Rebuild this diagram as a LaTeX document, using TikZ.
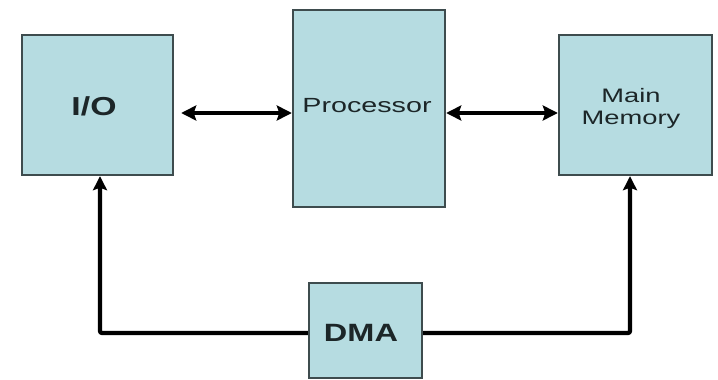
\documentclass[tikz,border=0pt]{standalone}
\usepackage{fontspec}
\setmainfont{Liberation Sans}
\newfontfamily\widefont[FakeStretch=1.4]{Liberation Sans}
\newfontfamily\widebold[FakeStretch=1.3]{Liberation Sans Bold}
\usetikzlibrary{arrows.meta}
\definecolor{boxfill}{HTML}{B6DCE1}
\definecolor{boxedge}{HTML}{3E4C4E}
\definecolor{labeltext}{HTML}{1C2628}
\tikzset{
  block/.style={draw=boxedge, line width=2.4pt, fill=boxfill, rectangle,
    inner sep=0pt, text=labeltext, align=center},
  bus/.style={line width=4.6pt, black,
    {Stealth[length=15pt,width=15pt,inset=2.5pt]}-{Stealth[length=15pt,width=15pt,inset=2.5pt]}},
  link/.style={line width=4.2pt, black, -{Stealth[length=14pt,width=14pt,inset=2.5pt]}}
}
\begin{document}
\begin{tikzpicture}[x=1pt, y=-1pt]
\useasboundingbox (0,0) rectangle (718,380);

% functional blocks
\node[block, minimum width=151pt, minimum height=140pt] (io) at (97.5,105) {};
\node[block, minimum width=152pt, minimum height=197pt] (proc) at (369,108.5) {};
\node[block, minimum width=153pt, minimum height=140pt] (mem) at (635.5,105) {};
\node[block, minimum width=113pt, minimum height=95pt] (dma) at (365.5,330.5) {};

% block labels
\node[text=labeltext, font=\widebold\fontsize{26}{28}\selectfont] (iotext) at (94,106.5) {I/O};
\node[text=labeltext, font=\widefont\fontsize{20.5}{22}\selectfont] (proctext) at (367,106) {Processor};
\node[text=labeltext, font=\widefont\fontsize{19.5}{22}\selectfont, align=center] (memtext) at (631,108) {Main\\Memory};
\node[text=labeltext, font=\widebold\fontsize{25}{27}\selectfont] (dmatext) at (361,333) {DMA};

% data paths to the processor
\draw[bus] ([xshift=7pt,yshift=-8pt]io.east) -- ([yshift=-8pt]io.east -| proc.west);
\draw[bus] ([yshift=-8pt]mem.west -| proc.east) -- ([yshift=-8pt]mem.west);

% DMA transfer paths
\draw[link, rounded corners=2pt] ([yshift=-2.5pt]dma.west) -| ([xshift=2.5pt]io.south);
\draw[link, rounded corners=2pt] ([yshift=-2.5pt]dma.east) -| ([xshift=-5.5pt]mem.south);
\end{tikzpicture}
\end{document}
